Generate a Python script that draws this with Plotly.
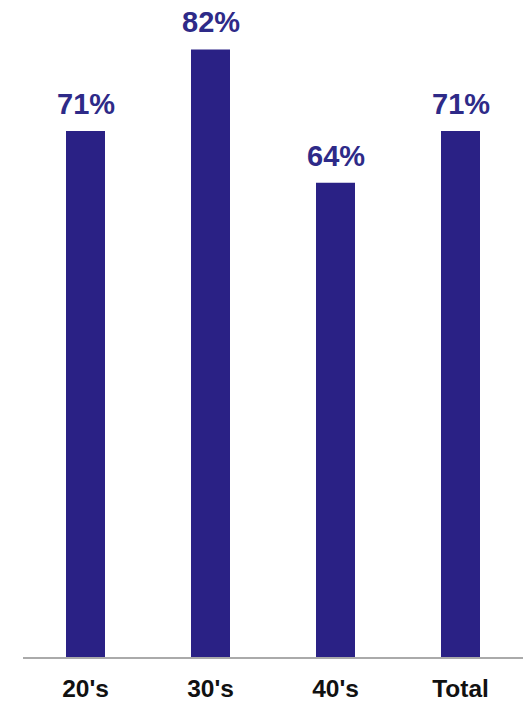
import plotly.graph_objects as go

categories = ["20's", "30's", "40's", "Total"]
values = [71, 82, 64, 71]
value_labels = ["71%", "82%", "64%", "71%"]

BAR_COLOR = "#2a2185"
LABEL_COLOR = "#2e2a88"

fig = go.Figure()
fig.add_trace(go.Bar(
    x=categories,
    y=values,
    marker=dict(color=BAR_COLOR, line=dict(width=0)),
    hoverinfo="skip",
))

for c, v, t in zip(categories, values, value_labels):
    fig.add_annotation(
        x=c, y=v, text=t, showarrow=False,
        xanchor="center", yanchor="bottom", yshift=9,
        font=dict(family="Liberation Sans, Arial, sans-serif", size=29,
                  color=LABEL_COLOR, weight="bold"),
    )

fig.update_layout(
    width=523, height=702,
    margin=dict(l=23, r=0, t=5, b=42),
    paper_bgcolor="white",
    plot_bgcolor="white",
    bargap=0.688,
    showlegend=False,
    xaxis=dict(
        showline=True, linecolor="#aaaaaa", linewidth=1.5,
        showgrid=False, ticks="", zeroline=False,
        tickfont=dict(family="Liberation Sans, Arial, sans-serif", size=24.5,
                      color="#111111", weight="bold"),
        ticklabelstandoff=9,
    ),
    yaxis=dict(
        range=[0, 88], visible=False, showgrid=False, zeroline=False,
    ),
)

fig.write_html(
    "out.html",
    config={"displayModeBar": False},
    post_script="document.body.style.margin='0';document.body.style.overflow='hidden';",
)
